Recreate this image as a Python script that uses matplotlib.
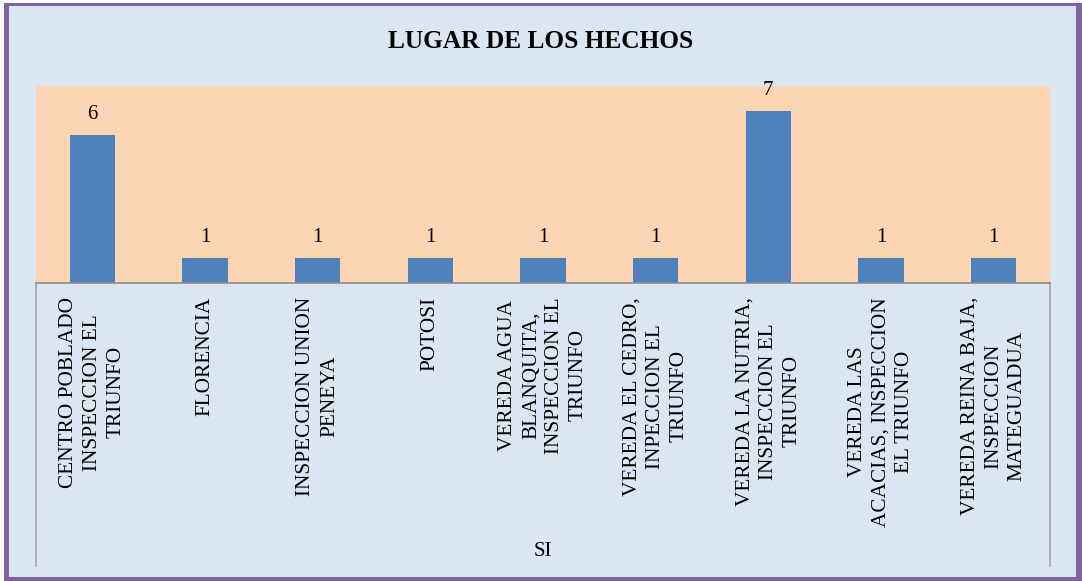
import matplotlib
matplotlib.use("Agg")
from matplotlib import pyplot as plt
from matplotlib.patches import Rectangle

# Data #
categories = [
    "CENTRO POBLADO\nINSPECCION EL\nTRIUNFO",
    "FLORENCIA",
    "INSPECCION UNION\nPENEYA",
    "POTOSI",
    "VEREDA AGUA\nBLANQUITA,\nINSPECCION EL\nTRIUNFO",
    "VEREDA EL CEDRO,\nINPECCION EL\nTRIUNFO",
    "VEREDA LA NUTRIA,\nINSPECCION EL\nTRIUNFO",
    "VEREDA LAS\nACACIAS, INSPECCION\nEL TRIUNFO",
    "VEREDA REINA BAJA,\nINSPECCION\nMATEGUADUA",
]
values = [6, 1, 1, 1, 1, 1, 7, 1, 1]
group_label = "SI"
title = "LUGAR DE LOS HECHOS"

# Styles #
plt.rcParams['font.family'] = ['Liberation Serif', 'DejaVu Serif']
bg = "#dce6f2"
plot_bg = "#fcd5b5"
bar_color = "#4f81bd"
line_gray = "#8c8c8c"

W, H = 1082, 581
fig = plt.figure(figsize=(W / 100, H / 100), dpi=100)
fig.patch.set_facecolor("white")

# Purple frame with the light blue inside #
fig.patches.append(Rectangle((4 / W, 0), (W - 4) / W, (H - 3) / H,
                             transform=fig.transFigure, facecolor="#8064a2",
                             edgecolor="none", zorder=-10))
fig.patches.append(Rectangle((9 / W, 4 / H), (1076 - 9) / W, (577 - 6) / H,
                             transform=fig.transFigure, facecolor=bg,
                             edgecolor="none", zorder=-9))

left, right, top, bottom = 36, 1050, 86, 283
ax = fig.add_axes([left / W, 1 - bottom / H, (right - left) / W, (bottom - top) / H])
ax.set_facecolor(plot_bg)

x = list(range(len(values)))
bars = ax.bar(x, values, width=0.4, color=bar_color, zorder=2)
ax.set_xlim(-0.5, len(values) - 0.5)
ax.set_ylim(0, 8)

for xi, v in zip(x, values):
    ax.annotate(str(v), (xi, v), xytext=(0, 8), textcoords="offset points",
                ha="center", va="bottom", fontsize=15)

ax.set_xticks(x)
ax.set_xticklabels(categories, rotation=90, ha="center", va="top",
                   multialignment="center", fontsize=15.3, linespacing=1.33)
ax.tick_params(axis="x", length=0, pad=10)
ax.set_yticks([])

for s in ["top", "left", "right"]:
    ax.spines[s].set_visible(False)
ax.spines["bottom"].set_color(line_gray)
ax.spines["bottom"].set_linewidth(1.2)

# Category group lines #
low = -(566 - bottom) / (bottom - top)
for xv in [0, 1]:
    ax.plot([xv, xv], [0, low], transform=ax.transAxes, color="#a6a6a6",
            linewidth=1.2, clip_on=False)

ax.text(0.5, -(552 - bottom) / (bottom - top), group_label, transform=ax.transAxes,
        ha="center", va="center", fontsize=15)

fig.text(541 / W, 1 - 42 / H, title, ha="center", va="center",
         fontsize=18.3, fontweight="bold")

fig.savefig("out.png", dpi=100, facecolor="white")
